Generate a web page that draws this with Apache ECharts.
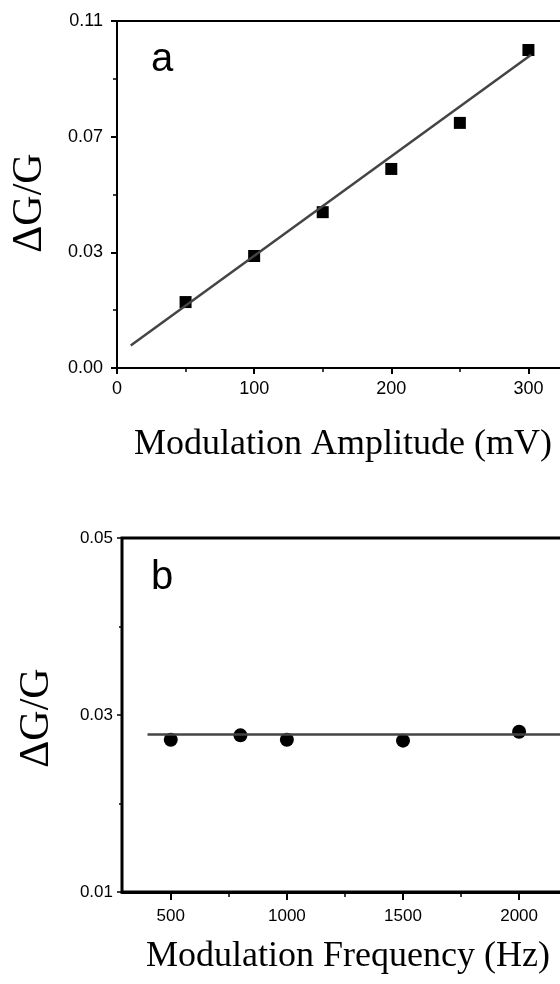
<!DOCTYPE html>
<html>
<head>
<meta charset="utf-8">
<script src="https://cdn.jsdelivr.net/npm/echarts@6/dist/echarts.min.js"></script>
<style>
  html, body { margin: 0; padding: 0; background: #fff; }
  #chart { width: 560px; height: 984px; }
</style>
</head>
<body>
<div id="chart"></div>
<script>
// panel a: signal vs modulation amplitude
var ampX = [50, 100, 150, 200, 250, 300];
var ampY = [0.0209, 0.0355, 0.0494, 0.0631, 0.0777, 0.1008];
var ampFitX = [10, 302];
var ampFitY = [0.0071, 0.0993];

// panel b: signal vs modulation frequency
var freqX = [500, 800, 1000, 1500, 2000];
var freqY = [0.0272, 0.0277, 0.0272, 0.0271, 0.0281];
var freqFitX = [400, 2400];
var freqFitY = [0.0278, 0.0278];

var freqTicks = [500, 1000, 1500, 2000];
var freqMinorTicks = [750, 1250, 1750, 2250];
var freqYTicks = [0.01, 0.03, 0.05];
var freqYMinorTicks = [0.02, 0.04];

function pairs(xs, ys) {
  return xs.map(function (x, i) { return [x, ys[i]]; });
}

var chart = echarts.init(document.getElementById('chart'));

var labelFont = 'Liberation Sans, Arial, sans-serif';
var titleFont = 'Liberation Serif, Times New Roman, serif';

chart.setOption({
  animation: false,
  backgroundColor: '#fff',
  grid: [
    { left: 117, top: 21, width: 480, height: 347, outerBoundsMode: 'none', containLabel: false,
      show: true, borderColor: '#000', borderWidth: 2 },
    { left: 122, top: 538, width: 490, height: 354, outerBoundsMode: 'none', containLabel: false,
      show: true, borderColor: '#000', borderWidth: 3 }
  ],
  xAxis: [
    {
      gridIndex: 0, type: 'value', min: 0, max: 350, interval: 100,
      axisLine: { lineStyle: { color: '#000', width: 2 } },
      axisTick: { length: 6, lineStyle: { color: '#000', width: 2 } },
      minorTick: { show: true, splitNumber: 2, length: 4, lineStyle: { color: '#000', width: 1.5 } },
      splitLine: { show: false },
      axisLabel: { color: '#000', fontSize: 18, fontFamily: labelFont, margin: 12 }
    },
    {
      gridIndex: 1, type: 'value', min: 290, max: 2400, position: 'bottom',
      axisLine: { lineStyle: { color: '#000', width: 3 } },
      axisTick: { customValues: freqTicks, length: 8, lineStyle: { color: '#000', width: 2 } },
      splitLine: { show: false },
      axisLabel: {
        customValues: freqTicks, color: '#000', fontSize: 17, fontFamily: labelFont, margin: 16,
        formatter: function (v) { return String(v); }
      }
    },
    {
      gridIndex: 1, type: 'value', min: 290, max: 2400, position: 'bottom',
      axisLine: { show: false },
      axisTick: { customValues: freqMinorTicks, length: 5, lineStyle: { color: '#000', width: 1.5 } },
      splitLine: { show: false },
      axisLabel: { show: false }
    }
  ],
  yAxis: [
    {
      gridIndex: 0, type: 'value', min: 0, max: 0.11, interval: 0.11 / 3,
      axisLine: { show: true, lineStyle: { color: '#000', width: 2 } },
      axisTick: { show: true, length: 6, lineStyle: { color: '#000', width: 2 } },
      minorTick: { show: true, splitNumber: 2, length: 4, lineStyle: { color: '#000', width: 1.5 } },
      splitLine: { show: false },
      axisLabel: {
        color: '#000', fontSize: 18, fontFamily: labelFont, margin: 14,
        formatter: function (v) { return (Math.floor(v * 100 + 1e-6) / 100).toFixed(2); }
      }
    },
    {
      gridIndex: 1, type: 'value', min: 0.01, max: 0.05, position: 'left',
      axisLine: { show: true, lineStyle: { color: '#000', width: 2 } },
      axisTick: { show: true, customValues: freqYTicks, length: 5, lineStyle: { color: '#000', width: 1.5 } },
      splitLine: { show: false },
      axisLabel: {
        customValues: freqYTicks, color: '#000', fontSize: 17, fontFamily: labelFont, margin: 9,
        formatter: function (v) { return v.toFixed(2); }
      }
    },
    {
      gridIndex: 1, type: 'value', min: 0.01, max: 0.05, position: 'left',
      axisLine: { show: false },
      axisTick: { show: true, customValues: freqYMinorTicks, length: 3, lineStyle: { color: '#000', width: 1.5 } },
      splitLine: { show: false },
      axisLabel: { show: false }
    }
  ],
  series: [
    {
      type: 'scatter', xAxisIndex: 0, yAxisIndex: 0,
      symbol: 'rect', symbolSize: 12,
      itemStyle: { color: '#000', opacity: 1 },
      data: pairs(ampX, ampY)
    },
    {
      type: 'line', xAxisIndex: 0, yAxisIndex: 0,
      symbol: 'none', z: 3,
      lineStyle: { color: '#444', width: 2.5 },
      data: pairs(ampFitX, ampFitY)
    },
    {
      type: 'scatter', xAxisIndex: 1, yAxisIndex: 1,
      symbol: 'circle', symbolSize: 14,
      itemStyle: { color: '#000', opacity: 1 },
      data: pairs(freqX, freqY)
    },
    {
      type: 'line', xAxisIndex: 1, yAxisIndex: 1,
      symbol: 'none', z: 3,
      lineStyle: { color: '#444', width: 2.5 },
      data: pairs(freqFitX, freqFitY)
    }
  ],
  graphic: [
    { type: 'text', left: 151, top: 40, style: { text: 'a', fill: '#000', font: '40px ' + labelFont } },
    { type: 'text', left: 151, top: 558, style: { text: 'b', fill: '#000', font: '40px ' + labelFont } },
    {
      type: 'text', x: 30, y: 203, rotation: Math.PI / 2,
      style: { text: 'ΔG/G', fill: '#000', font: '42px ' + titleFont, align: 'center', verticalAlign: 'middle' }
    },
    {
      type: 'text', x: 37, y: 718, rotation: Math.PI / 2,
      style: { text: 'ΔG/G', fill: '#000', font: '42px ' + titleFont, align: 'center', verticalAlign: 'middle' }
    },
    {
      type: 'text', x: 343, y: 445,
      style: { text: 'Modulation Amplitude (mV)', fill: '#000', font: '36px ' + titleFont, align: 'center', verticalAlign: 'middle' }
    },
    {
      type: 'text', x: 348, y: 957,
      style: { text: 'Modulation Frequency (Hz)', fill: '#000', font: '36px ' + titleFont, align: 'center', verticalAlign: 'middle' }
    }
  ]
});
</script>
</body>
</html>
